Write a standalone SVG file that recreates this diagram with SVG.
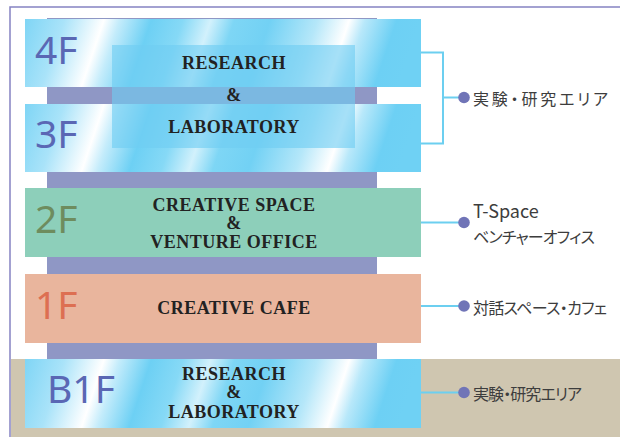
<svg xmlns="http://www.w3.org/2000/svg" width="620" height="437" viewBox="0 0 620 437">
  <defs>
    <!-- brushed metallic blue with diagonal highlights -->
    <linearGradient id="metal" x1="0" y1="0" x2="1" y2="0" gradientTransform="skewX(-3.3)">
      <stop offset="0" stop-color="#7fd5f5"/>
      <stop offset="0.1" stop-color="#a9e3f9"/>
      <stop offset="0.2" stop-color="#ffffff"/>
      <stop offset="0.24" stop-color="#c4ecfb"/>
      <stop offset="0.32" stop-color="#6dd0f4"/>
      <stop offset="0.4" stop-color="#86d9f6"/>
      <stop offset="0.47" stop-color="#d2f1fc"/>
      <stop offset="0.53" stop-color="#7ed6f5"/>
      <stop offset="0.62" stop-color="#72d1f4"/>
      <stop offset="0.74" stop-color="#b5e7f9"/>
      <stop offset="0.82" stop-color="#ffffff"/>
      <stop offset="0.86" stop-color="#b8e8fa"/>
      <stop offset="0.94" stop-color="#6dd0f4"/>
      <stop offset="1" stop-color="#6fd1f4"/>
    </linearGradient>
    <style>
      .frame { fill: none; stroke: #8582c2; stroke-width: 1.5; }
      .core { fill: #8f97c5; }
      .metal { fill: url(#metal); }
      .green { fill: #8dcfba; }
      .salmon { fill: #e9b59d; }
      .overlay { fill: #6fcdf2; fill-opacity: 0.62; }
      .num { font-family: "Noto Sans", "Open Sans", sans-serif; font-size: 39px; }
      .blue { fill: #5a67b4; }
      .olive { fill: #6e8c5e; }
      .red { fill: #dd6f52; }
      .name { font-family: "Liberation Serif", serif; font-weight: bold; font-size: 18px; letter-spacing: 0.5px; fill: #222222; text-anchor: middle; }
      .link { fill: none; stroke: #6ccff0; stroke-width: 2; }
      .dot { fill: #7074b7; }
      .label { font-family: "Noto Sans CJK JP", "Noto Sans", sans-serif; font-size: 16px; fill: #3d3d3d; font-feature-settings: "palt"; }
    </style>
  </defs>

  <!-- basement ground -->
  <rect x="11" y="359" width="609" height="78" fill="#cfc6b0"/>

  <!-- page frame -->
  <path class="frame" d="M620 7 H10 V437"/>

  <!-- building core -->
  <rect id="core" class="core" x="47" y="18" width="330" height="342"/>

  <g id="floor-4F">
    <rect class="metal" x="25" y="19" width="396" height="68"/>
    <text class="num blue" x="35" y="64">4F</text>
  </g>

  <g id="floor-3F">
    <rect class="metal" x="25" y="104" width="396" height="68"/>
    <text class="num blue" x="35" y="148">3F</text>
  </g>

  <g id="research-upper">
    <rect class="overlay" x="112" y="45" width="243" height="103"/>
    <text class="name" x="234" y="69">RESEARCH</text>
    <text class="name" x="234" y="101">&amp;</text>
    <text class="name" x="234" y="133">LABORATORY</text>
  </g>

  <g id="floor-2F">
    <rect class="green" x="25" y="188" width="396" height="69"/>
    <text class="num olive" x="35" y="233">2F</text>
    <text class="name" x="234" y="211">CREATIVE SPACE</text>
    <text class="name" x="234" y="229">&amp;</text>
    <text class="name" x="234" y="248">VENTURE OFFICE</text>
  </g>

  <g id="floor-1F">
    <rect class="salmon" x="25" y="274" width="396" height="69"/>
    <text class="num red" x="35" y="319">1F</text>
    <text class="name" x="234" y="314">CREATIVE CAFE</text>
  </g>

  <g id="floor-B1F">
    <rect class="metal" x="25" y="359" width="396" height="69"/>
    <text class="num blue" x="47" y="403">B1F</text>
    <text class="name" x="234" y="380">RESEARCH</text>
    <text class="name" x="234" y="398">&amp;</text>
    <text class="name" x="234" y="418">LABORATORY</text>
  </g>

  <g id="connectors">
    <path class="link" d="M421 52.5 H443 V143.5 H421 M443 97.5 H464"/>
    <path class="link" d="M421 222.5 H464"/>
    <path class="link" d="M421 306 H464"/>
    <path class="link" d="M421 392.5 H464"/>
    <circle class="dot" cx="464" cy="97.5" r="5.8"/>
    <circle class="dot" cx="464" cy="222.5" r="5.8"/>
    <circle class="dot" cx="464" cy="306" r="5.8"/>
    <circle class="dot" cx="464" cy="392.5" r="5.8"/>
  </g>

  <g id="labels">
    <text class="label" x="473" y="105" textLength="135" lengthAdjust="spacing">実験・研究エリア</text>
    <text class="label" x="473" y="218" style="font-size:18px">T-Space</text>
    <text class="label" x="473" y="242.5" textLength="122" lengthAdjust="spacing">ベンチャーオフィス</text>
    <text class="label" x="473" y="313.5" textLength="134" lengthAdjust="spacing">対話スペース・カフェ</text>
    <text class="label" x="473" y="400" textLength="109" lengthAdjust="spacing">実験・研究エリア</text>
  </g>
</svg>
